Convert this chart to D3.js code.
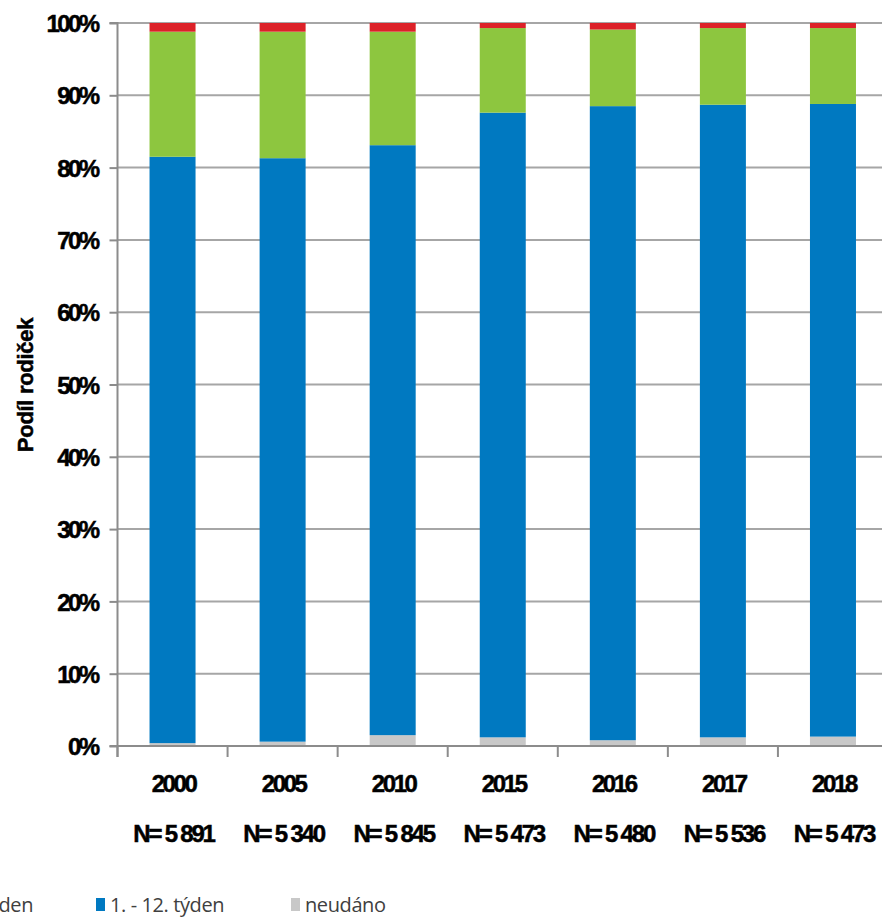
<!DOCTYPE html>
<html lang="cs">
<head>
<meta charset="utf-8">
<script src="https://cdn.jsdelivr.net/npm/d3@7"></script>
<style>
  html, body { margin: 0; padding: 0; background: #fff; overflow: hidden; }
  svg { display: block; }
  .lbl { font-family: "Liberation Sans", Arial, sans-serif; font-weight: bold; fill: #000; stroke: #000; stroke-width: 0.5px; }
  .leg { font-family: "Open Sans", "Liberation Sans", sans-serif; fill: #404040; }
</style>
</head>
<body>
<svg id="chart" width="882" height="917"></svg>
<script>
// Years and sample sizes
const years = ["2000", "2005", "2010", "2015", "2016", "2017", "2018"];
const sampleSizes = ["N= 5 891", "N= 5 340", "N= 5 845", "N= 5 473", "N= 5 480", "N= 5 536", "N= 5 473"];

// Shares of mothers (%) by week of first prenatal visit, bottom to top
const neudano   = [0.4, 0.6, 1.5, 1.2, 0.8, 1.2, 1.3];
const tyden1_12 = [81.1, 80.7, 81.6, 86.4, 87.7, 87.5, 87.5];
const tyden13_24 = [17.3, 17.5, 15.7, 11.7, 10.6, 10.6, 10.5];
const tyden25 = [1.2, 1.2, 1.2, 0.7, 0.9, 0.7, 0.7];

const seriesNames = ["neudáno", "1. - 12. týden", "13. - 24. týden", "25. týden a později"];
const seriesColors = ["#c8c8c8", "#0079c1", "#8dc63f", "#dc2128"];
const yTicks = [0, 10, 20, 30, 40, 50, 60, 70, 80, 90, 100];

const rows = years.map((y, i) => ({
  year: y,
  "neudáno": neudano[i],
  "1. - 12. týden": tyden1_12[i],
  "13. - 24. týden": tyden13_24[i],
  "25. týden a později": tyden25[i]
}));

const svg = d3.select("#chart");
const plotLeft = 117.5, plotRight = 888, plotTop = 23, plotBottom = 746;

const x = d3.scaleBand().domain(years).range([plotLeft, plotRight]).paddingInner(0.582).paddingOuter(0.291);
const y = d3.scaleLinear().domain([0, 100]).range([plotBottom, plotTop]);

// Horizontal gridlines
svg.append("g")
  .selectAll("line")
  .data(yTicks.filter(t => t > 0))
  .join("line")
  .attr("x1", plotLeft).attr("x2", 882)
  .attr("y1", d => y(d)).attr("y2", d => y(d))
  .attr("stroke", "#a6a6a6").attr("stroke-width", 2);

// Stacked bars
const stack = d3.stack().keys(seriesNames);
const layers = stack(rows);
svg.append("g")
  .selectAll("g")
  .data(layers)
  .join("g")
  .attr("fill", (d, i) => seriesColors[i])
  .selectAll("rect")
  .data(d => d)
  .join("rect")
  .attr("x", d => x(d.data.year))
  .attr("width", x.bandwidth())
  .attr("y", d => y(d[1]))
  .attr("height", d => y(d[0]) - y(d[1]));

// Y axis
const yAxis = d3.axisLeft(y).tickValues(yTicks).tickFormat(d => d + "%").tickSize(8).tickPadding(12);
const gy = svg.append("g").attr("transform", `translate(${plotLeft},0)`).call(yAxis);
gy.select(".domain").attr("stroke", "#8c8c8c").attr("stroke-width", 2)
  .attr("d", `M-8,${plotTop}H0V${plotBottom + 11}`);
gy.selectAll(".tick line").attr("stroke", "#8c8c8c").attr("stroke-width", 2);
gy.selectAll(".tick text").attr("class", "lbl")
  .style("font-size", "24px").style("letter-spacing", "-2.6px").attr("dy", "0.36em");

// X axis baseline and category separators
svg.append("line").attr("x1", plotLeft - 8).attr("x2", 882)
  .attr("y1", plotBottom).attr("y2", plotBottom)
  .attr("stroke", "#8c8c8c").attr("stroke-width", 2);
svg.append("g")
  .selectAll("line")
  .data(d3.range(years.length + 1))
  .join("line")
  .attr("x1", i => plotLeft + i * x.step()).attr("x2", i => plotLeft + i * x.step())
  .attr("y1", plotBottom).attr("y2", plotBottom + 11)
  .attr("stroke", "#8c8c8c").attr("stroke-width", 2);

// Category labels
const cx = d => x(d) + x.bandwidth() / 2 + 1;
svg.append("g").selectAll("text").data(years).join("text")
  .attr("class", "lbl")
  .attr("x", cx).attr("y", 792)
  .attr("text-anchor", "middle")
  .style("font-size", "24px").style("letter-spacing", "-2.4px")
  .text(d => d);
svg.append("g").selectAll("text").data(years).join("text")
  .attr("class", "lbl")
  .attr("x", cx).attr("y", 842)
  .attr("text-anchor", "middle")
  .style("font-size", "24px").style("letter-spacing", "-2.2px")
  .text((d, i) => sampleSizes[i]);

// Y axis title
svg.append("text")
  .attr("class", "lbl")
  .attr("transform", "translate(33,385) rotate(-90)")
  .attr("text-anchor", "middle")
  .style("font-size", "22px").style("letter-spacing", "-0.3px")
  .text("Podíl rodiček");

// Legend: one row, the first entries run past the left edge
const legend = svg.append("g");
const legOrder = [3, 2, 1, 0];
const items = legend.selectAll("g").data(legOrder).join("g");
items.append("rect").attr("width", 9).attr("height", 13).attr("y", 898)
  .attr("fill", i => seriesColors[i]);
items.append("text").attr("class", "leg").attr("x", 14).attr("y", 912)
  .style("font-size", "20px").style("letter-spacing", "-0.4px")
  .text(i => seriesNames[i]);
const nodes = items.nodes();
const widthOf = k => d3.select(nodes[k]).select("text").node().getComputedTextLength();
const legX = [];
legX[2] = 96;
legX[3] = 291;
legX[1] = 33 - widthOf(1) - 14;
legX[0] = legX[1] - 60 - widthOf(0) - 14;
nodes.forEach((n, k) => d3.select(n).attr("transform", `translate(${legX[k]},0)`));
</script>
</body>
</html>
